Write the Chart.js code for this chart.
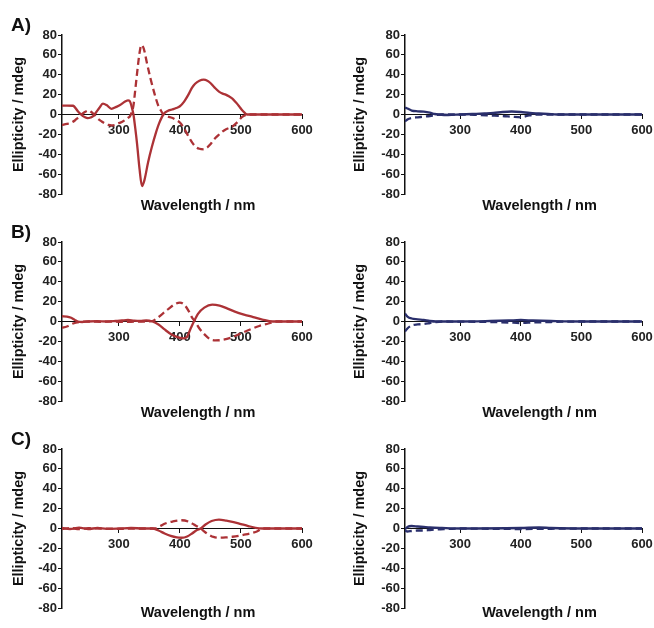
<!DOCTYPE html>
<html>
<head>
<meta charset="utf-8">
<script src="https://cdn.jsdelivr.net/npm/chart.js@4/dist/chart.umd.min.js"></script>
<style>
  body { margin: 0; background: #fff; }
  #wrap { position: relative; width: 654px; height: 628px; }
  .panel { position: absolute; width: 327px; height: 214px; }
  .tag { position: absolute; font: bold 19px/19px "Liberation Sans", Arial, sans-serif; color: #111; }
</style>
</head>
<body>
<div id="wrap">
  <div class="panel" style="left:0;top:0"><canvas id="graficoA1" width="327" height="214"></canvas></div>
  <div class="panel" style="left:327px;top:0"><canvas id="graficoA2" width="327" height="214"></canvas></div>
  <div class="panel" style="left:0;top:207px"><canvas id="graficoB1" width="327" height="214"></canvas></div>
  <div class="panel" style="left:327px;top:207px"><canvas id="graficoB2" width="327" height="214"></canvas></div>
  <div class="panel" style="left:0;top:414px"><canvas id="graficoC1" width="327" height="214"></canvas></div>
  <div class="panel" style="left:327px;top:414px"><canvas id="graficoC2" width="327" height="214"></canvas></div>
  <div class="tag" style="left:11px;top:15px">A)</div>
  <div class="tag" style="left:11px;top:222px">B)</div>
  <div class="tag" style="left:11px;top:429px">C)</div>
</div>
<script>
var xTicks = [300, 400, 500, 600];
var yTicks = [-80, -60, -40, -20, 0, 20, 40, 60, 80];

// A) red, left
var aRedSolidWl = [207, 215, 225, 233, 238, 244, 249, 254, 258, 263, 268, 274, 280, 288, 296, 302, 307, 312, 315, 318, 321, 324, 327, 330, 334, 338, 342, 348, 354, 360, 366, 373, 380, 387, 394, 400, 407, 414, 420, 425, 432, 439, 445, 450, 457, 464, 470, 475, 481, 486, 492, 497, 501, 505, 510, 520, 560, 600];
var aRedSolid = [9, 9, 8.8, 3.3, 0, -2.5, -3.7, -3, -1.7, 2.3, 6.5, 11, 9.5, 5.7, 7.7, 9.5, 11.7, 13.5, 14.3, 13.5, 8, 0, -14, -30, -55, -72, -66, -48, -33, -20, -9, 0, 3.5, 5, 6.5, 8.3, 13, 20, 27, 31, 34, 35, 34, 31.7, 27, 23, 21, 20, 18, 16, 12, 8.3, 5, 2.3, 0, 0, 0, 0];
var aRedDashWl = [207, 215, 222, 228, 233, 241, 246, 251, 255, 258, 262, 266, 272, 277, 283, 288, 294, 299, 305, 310, 315, 318, 321, 324, 327, 330, 334, 337, 341, 346, 352, 358, 364, 369, 373, 380, 387, 394, 400, 407, 414, 420, 425, 432, 439, 445, 450, 456, 461, 468, 475, 481, 486, 492, 497, 502, 506, 510, 520, 560, 600];
var aRedDash = [-10.7, -9.5, -8.3, -6, -3.3, 1, 3, 4, 2.5, 1, -1.5, -4.3, -7, -9, -10.5, -11, -10.5, -9, -7.5, -5.7, -3.5, -2, 2, 9, 25, 42, 62, 70, 66, 52, 36, 22, 10, 4, 0, -2, -3.3, -5.5, -8, -14, -22, -28, -32, -34.5, -35, -33, -30, -25, -22, -18, -15, -13.5, -12, -9, -5.7, -2.5, -1, 0, 0, 0, 0];

// A) blue, right
var aBlueSolidWl = [209, 213, 220, 230, 240, 250, 258, 265, 280, 300, 320, 340, 355, 370, 385, 400, 415, 430, 445, 460, 500, 600];
var aBlueSolid = [7, 6, 4, 3.2, 2.8, 1.8, 0.5, 0, -0.5, 0, 0.5, 1, 1.5, 2.5, 3, 2.5, 1.5, 1, 0.5, 0, 0, 0];
var aBlueDashWl = [209, 213, 220, 230, 240, 250, 260, 270, 300, 330, 350, 370, 385, 400, 410, 425, 450, 600];
var aBlueDash = [-7, -5, -3.5, -2.8, -2.2, -1.5, -0.5, 0, 0, -0.5, -1, -1.5, -2.2, -2.8, -1.5, 0, 0, 0];

// B) red, left
var bRedSolidWl = [207, 215, 222, 228, 233, 240, 250, 265, 280, 295, 305, 315, 325, 335, 345, 355, 365, 375, 385, 395, 405, 411, 417, 423, 430, 440, 453, 465, 478, 490, 505, 520, 535, 552, 570, 600];
var bRedSolid = [5.3, 5, 3.7, 1.5, 0, -0.5, 0, 0.3, 0, 0.5, 1, 1.5, 0.8, 0.5, 1, 0, -3, -8, -12.5, -15.5, -17, -16, -8, 0, 8, 14, 17, 16, 13, 10, 7, 4.5, 2, 0, 0, 0];
var bRedDashWl = [207, 215, 225, 235, 250, 270, 290, 310, 330, 345, 355, 362, 372, 382, 392, 400, 407, 414, 420, 425, 432, 442, 450, 458, 470, 485, 500, 515, 530, 545, 556, 575, 600];
var bRedDash = [-6.3, -5, -2, -0.5, 0, -0.3, 0, -0.5, 0, 0, 0.5, 3, 8, 13, 17.5, 19, 17, 11, 4, 0, -7, -14, -18, -19, -18.5, -16, -12, -8, -4.5, -2, 0, 0, 0];

// B) blue, right
var bBlueSolidWl = [209, 213, 220, 230, 240, 250, 260, 300, 350, 380, 400, 420, 450, 500, 600];
var bBlueSolid = [8, 5, 3, 2.2, 1.5, 0.5, 0, 0, 0.5, 1, 1.5, 1, 0.5, 0, 0];
var bBlueDashWl = [209, 213, 220, 230, 240, 250, 260, 270, 350, 380, 400, 420, 450, 500, 600];
var bBlueDash = [-10, -7, -4, -3, -2.5, -1.5, -0.5, 0, -0.5, -1, -1.5, -1, -0.5, 0, 0];

// C) red, left
var cRedSolidWl = [207, 220, 235, 250, 265, 280, 300, 320, 340, 355, 365, 375, 385, 395, 403, 412, 420, 428, 434, 442, 452, 464, 476, 488, 500, 512, 524, 535, 560, 600];
var cRedSolid = [0.5, -0.5, 0.8, -0.5, 0.5, -0.3, 0, 0.5, 0, 0, -2, -5, -7.5, -9, -9.3, -8, -5, -1.5, 0, 4, 7.5, 9, 8, 6.5, 4.5, 2.5, 0.7, 0, 0, 0];
var cRedDashWl = [207, 220, 235, 250, 270, 300, 330, 350, 359, 368, 376, 388, 403, 414, 423, 434, 441, 447, 455, 464, 475, 486, 497, 508, 518, 527, 535, 560, 600];
var cRedDash = [-0.5, 0.5, -0.5, 0.3, 0, -0.3, 0, 0, 0, 2.5, 5, 7, 8.3, 7, 4, 0, -3.5, -6, -8.5, -9.3, -9, -8.3, -7.3, -6, -4.5, -2.7, 0, 0, 0];

// C) blue, right
var cBlueSolidWl = [209, 213, 220, 230, 240, 250, 270, 300, 400, 430, 450, 500, 600];
var cBlueSolid = [-1, 1.5, 2.5, 2, 1.5, 1, 0.5, 0, 0.5, 1, 0.5, 0, 0];
var cBlueDashWl = [209, 213, 220, 230, 240, 250, 260, 280, 300, 400, 500, 600];
var cBlueDash = [-2, -3, -2.5, -2, -2, -1.5, -1, -0.5, 0, -0.5, 0, 0];

var red = '#ac3236';
var blue = '#2a2f6c';
var fontFamily = '"Liberation Sans", Arial, sans-serif';

function toPoints(wl, vals) {
    return wl.map(function(w, i) { return {x: w, y: vals[i]}; });
}

var xTitlePlugin = {
    id: 'xTitle',
    afterDraw: function(chart, args, opts) {
        var a = chart.chartArea;
        var ctx = chart.ctx;
        ctx.save();
        ctx.font = 'bold 14.5px ' + fontFamily;
        ctx.fillStyle = '#111';
        ctx.textAlign = 'center';
        ctx.textBaseline = 'alphabetic';
        ctx.fillText('Wavelength / nm', (a.left + a.right) / 2 + 16, a.bottom + opts.dy);
        ctx.restore();
    }
};

function makeGraphic(id, p) {
    var canvas = document.getElementById('grafico' + id);
    var dataGraphic = {
        type: 'line',
        data: {
            datasets: [
                {
                    label: 'solid',
                    data: toPoints(p.solidWl, p.solid),
                    borderColor: p.color,
                    borderWidth: 2.3,
                    pointRadius: 0,
                    cubicInterpolationMode: 'monotone'
                },
                {
                    label: 'dash',
                    data: toPoints(p.dashWl, p.dash),
                    borderColor: p.color,
                    borderWidth: 2.3,
                    borderDash: [7, 4],
                    pointRadius: 0,
                    cubicInterpolationMode: 'monotone'
                }]
        },
        options: {
            responsive: false,
            animation: false,
            layout: {padding: {left: p.padLeft, right: p.padRight, top: 35, bottom: 20}},
            plugins: {
                legend: {display: false},
                tooltip: {enabled: false},
                xTitle: {dy: p.titleDy}
            },
            scales: {
                x: {
                    type: 'linear',
                    min: p.xMin,
                    max: 600,
                    position: {y: 0},
                    grid: {drawOnChartArea: false, drawTicks: true, tickLength: 4, color: '#111'},
                    border: {display: true, color: '#111', width: 1},
                    ticks: {
                        color: '#222',
                        padding: 4,
                        maxRotation: 0,
                        autoSkip: false,
                        font: {family: fontFamily, size: 13, weight: 'bold'}
                    },
                    afterBuildTicks: function(scale) {
                        scale.ticks = xTicks.map(function(v) { return {value: v}; });
                    },
                    afterFit: function(scale) {
                        // let the "600" label hang past the plot edge, as in the figure
                        scale.paddingLeft = 0;
                        scale.paddingRight = 0;
                    }
                },
                y: {
                    min: -80,
                    max: 80,
                    grid: {drawOnChartArea: false, drawTicks: true, tickLength: 4, color: '#111'},
                    border: {display: true, color: '#111', width: 1.5},
                    ticks: {
                        color: '#222',
                        padding: 1,
                        font: {family: fontFamily, size: 13, weight: 'bold'}
                    },
                    afterBuildTicks: function(scale) {
                        scale.ticks = yTicks.map(function(v) { return {value: v}; });
                    },
                    afterFit: function(scale) {
                        scale.width = p.yWidth;
                    },
                    title: {
                        display: true,
                        text: 'Ellipticity / mdeg',
                        color: '#111',
                        padding: {top: 4, bottom: 0},
                        font: {family: fontFamily, size: 14.5, weight: 'bold'}
                    }
                }
            }
        },
        plugins: [xTitlePlugin]
    };
    return new Chart(canvas, dataGraphic);
}

var left = {color: red, xMin: 207, padLeft: 6, yWidth: 56, padRight: 25};
var right = {color: blue, xMin: 209, padLeft: 20, yWidth: 58, padRight: 12};

function panel(base, extra) {
    var o = {};
    for (var k in base) o[k] = base[k];
    for (var j in extra) o[j] = extra[j];
    return o;
}

makeGraphic('A1', panel(left, {solidWl: aRedSolidWl, solid: aRedSolid, dashWl: aRedDashWl, dash: aRedDash, titleDy: 16}));
makeGraphic('A2', panel(right, {solidWl: aBlueSolidWl, solid: aBlueSolid, dashWl: aBlueDashWl, dash: aBlueDash, titleDy: 16}));
makeGraphic('B1', panel(left, {solidWl: bRedSolidWl, solid: bRedSolid, dashWl: bRedDashWl, dash: bRedDash, titleDy: 16}));
makeGraphic('B2', panel(right, {solidWl: bBlueSolidWl, solid: bBlueSolid, dashWl: bBlueDashWl, dash: bBlueDash, titleDy: 16}));
makeGraphic('C1', panel(left, {solidWl: cRedSolidWl, solid: cRedSolid, dashWl: cRedDashWl, dash: cRedDash, titleDy: 9}));
makeGraphic('C2', panel(right, {solidWl: cBlueSolidWl, solid: cBlueSolid, dashWl: cBlueDashWl, dash: cBlueDash, titleDy: 9}));
</script>
</body>
</html>
